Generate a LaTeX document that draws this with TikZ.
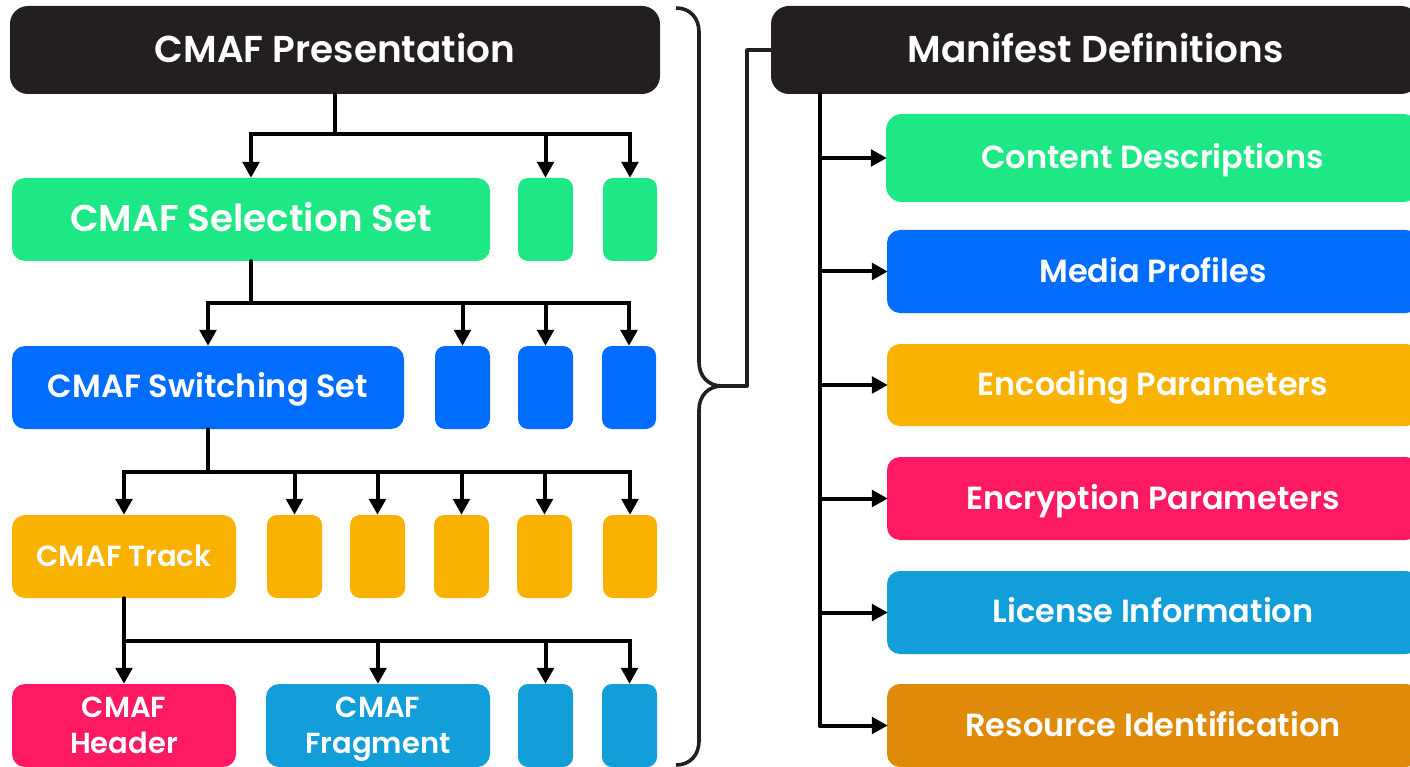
\documentclass[tikz,border=0pt]{standalone}
\usepackage{fontspec}
\setmainfont{Poppins SemiBold}
\usetikzlibrary{arrows.meta}
\definecolor{ink}{HTML}{231F20}
\definecolor{cgreen}{HTML}{1EE885}
\definecolor{cblue}{HTML}{016DFE}
\definecolor{cyellow}{HTML}{FAB200}
\definecolor{cpink}{HTML}{FD1A62}
\definecolor{ccyan}{HTML}{129FD9}
\definecolor{corange}{HTML}{DF8A08}
\newcommand{\fsz}[1]{\fontsize{#1}{36}\selectfont}
% \bx[style]{name}{x0}{y0}{x1}{y1}{colour}{text}
\newcommand{\bx}[8][]{%
  \pgfmathsetmacro{\bxw}{#5-#3}\pgfmathsetmacro{\bxh}{#6-#4}%
  \node[cbox,fill=#7,minimum width=\bxw pt,minimum height=\bxh pt,#1] (#2) at ({(#3+#5)/2},{(#4+#6)/2}) {#8};}
\tikzset{
  cbox/.style={rectangle,rounded corners=13pt,inner sep=0pt,text=white,align=center,draw=none},
  fs/.style={font=\fsz{#1},text height={0.7*#1pt},text depth=2pt},
  lower text/.style={text depth=0pt},
  tiny box/.style={rounded corners=10pt},
  twolines/.style={font=\fsz{29},text height=56.3pt,text depth=1pt},
  arr/.style={line width=4pt,black,-{Triangle[length=16pt,width=16.5pt]}},
  link/.style={line width=4pt,black,line join=round,line cap=round},
  brace/.style={line width=3.6pt,ink}
}
\begin{document}
\begin{tikzpicture}[x=1pt,y=-1pt]
\clip (0,0) rectangle (1410,767);
\useasboundingbox (0,0) rectangle (1410,767);
\fill[white] (0,0) rectangle (1410,767);
% left column
\bx[rounded corners=18pt,fs=37.4]{pres}{10}{6}{660}{94}{ink}{CMAF Presentation}
\bx[fs=37.3]{sel}{12}{178}{490}{261}{cgreen}{CMAF Selection Set}
\bx[tiny box]{sela}{518}{178}{573}{261}{cgreen}{}
\bx[tiny box]{selb}{603}{178}{657}{261}{cgreen}{}
\bx[fs=32]{sw}{12}{346}{404}{429}{cblue}{CMAF Switching Set}
\bx[tiny box]{swa}{435}{346}{490}{429}{cblue}{}
\bx[tiny box]{swb}{518}{346}{573}{429}{cblue}{}
\bx[tiny box]{swc}{602}{346}{656}{429}{cblue}{}
\bx[fs=29.2,lower text]{trk}{12}{515}{236}{598}{cyellow}{CMAF Track}
\bx[tiny box]{trka}{267}{515}{322}{598}{cyellow}{}
\bx[tiny box]{trkb}{350}{515}{405}{598}{cyellow}{}
\bx[tiny box]{trkc}{434}{515}{489}{598}{cyellow}{}
\bx[tiny box]{trkd}{517}{515}{572}{598}{cyellow}{}
\bx[tiny box]{trke}{603}{515}{657}{598}{cyellow}{}
\bx[twolines]{hdr}{12}{684}{236}{767}{cpink}{CMAF\\Header}
\bx[twolines]{frag}{266}{684}{490}{767}{ccyan}{CMAF\\Fragment}
\bx[tiny box]{fraga}{518}{684}{573}{767}{ccyan}{}
\bx[tiny box]{fragb}{602}{684}{657}{767}{ccyan}{}
% right column
\bx[rounded corners=18pt]{man}{771}{6}{1419}{94}{ink}{}
\node[fs=37.4,text=white,inner sep=0pt] (mantext) at (1095.5,50) {Manifest Definitions};
\bx[rounded corners=16pt,fs=32]{cont}{886}{114}{1419}{202}{cgreen}{Content Descriptions}
\bx[fs=32,lower text]{media}{887}{230}{1419}{313}{cblue}{Media Profiles}
\bx[fs=32]{enc}{887}{344}{1419}{426}{cyellow}{Encoding Parameters}
\bx[fs=32,lower text]{cry}{887}{457}{1419}{540}{cpink}{Encryption Parameters}
\bx[fs=32]{lic}{887}{571}{1419}{654}{ccyan}{License Information}
\bx[fs=32,lower text]{res}{887}{684}{1419}{767}{corange}{Resource Identification}
% tree connectors
\coordinate (busa) at (pres.south |- 0,134);
\draw[link] (pres.south) -- (busa);
\foreach \c in {sel,sela,selb} \draw[arr] (busa) -| (\c.north);
\coordinate (busb) at (sel.south |- 0,303);
\draw[link] (sel.south) -- (busb);
\foreach \c in {sw,swa,swb,swc} \draw[arr] (busb) -| (\c.north);
\coordinate (busc) at (sw.south |- 0,472);
\draw[link] (sw.south) -- (busc);
\foreach \c in {trk,trka,trkb,trkc,trkd,trke} \draw[arr] (busc) -| (\c.north);
\coordinate (busd) at (trk.south |- 0,641);
\draw[link] (trk.south) -- (busd);
\foreach \c in {hdr,frag,fraga,fragb} \draw[arr] (busd) -| (\c.north);
% manifest connectors
\coordinate (mtop) at (819.5,94);
\draw[link] (mtop) |- ([xshift=-12pt]res.west);
\foreach \c in {cont,media,enc,cry,lic,res} \draw[arr] (mtop |- \c.west) -- ([xshift=1pt]\c.west);
% brace
\coordinate (bjoin) at (747,386);
\draw[brace] (676,8) .. controls (690,8) and (699,18) .. (699,32) -- (699,362) .. controls (699,376) and (708,386) .. (722,386) -- (bjoin);
\draw[brace] (676,765) .. controls (690,765) and (699,755) .. (699,741) -- (699,410) .. controls (699,396) and (708,386) .. (722,386);
\draw[brace,line cap=round,line join=round] (bjoin) |- (man.west);
\end{tikzpicture}
\end{document}
